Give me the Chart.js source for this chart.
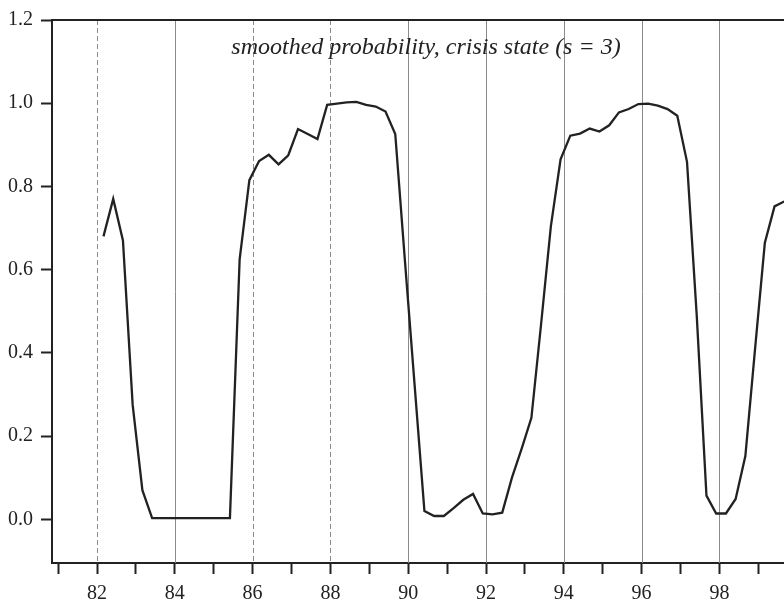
<!DOCTYPE html>
<html>
<head>
<meta charset="utf-8">
<script src="https://cdn.jsdelivr.net/npm/chart.js@4/dist/chart.umd.min.js"></script>
<style>
  body { margin: 0; background: #fff; }
  .chart-wrapper { width: 784px; height: 606px; }
</style>
</head>
<body>
<div class="chart-wrapper"><canvas id="chart"></canvas></div>
<script>
// quarterly observations, first one is March 1982
const firstQuarter = 82 + 2 / 12;
const probability = [
  0.68, 0.77, 0.67, 0.275, 0.07, 0.003, 0.003, 0.003, 0.003, 0.003,
  0.003, 0.003, 0.003, 0.003, 0.625, 0.815, 0.861, 0.876, 0.853, 0.875,
  0.938, 0.926, 0.914, 0.996, 0.999, 1.002, 1.003, 0.996, 0.992, 0.98,
  0.926, 0.62, 0.32, 0.02, 0.008, 0.008, 0.027, 0.047, 0.061, 0.014,
  0.012, 0.016, 0.1, 0.17, 0.244, 0.47, 0.704, 0.865, 0.922, 0.927,
  0.939, 0.932, 0.947, 0.978, 0.986, 0.998, 0.999, 0.994, 0.986, 0.97,
  0.859, 0.49, 0.057, 0.014, 0.014, 0.049, 0.152, 0.41, 0.664, 0.752,
  0.764,
];
const yTicks = [0, 0.2, 0.4, 0.6, 0.8, 1.0, 1.2];
const xTicks = [81, 82, 83, 84, 85, 86, 87, 88, 89, 90, 91, 92, 93, 94, 95, 96, 97, 98, 99];
const gridYears = [82, 84, 86, 88, 90, 92, 94, 96, 98];
const dashedYears = [82, 86, 88];
const title = 'smoothed probability, crisis state (s = 3)';

const serif = '"Liberation Serif", "DejaVu Serif", serif';
const ink = '#222';

const yearLines = {
  id: 'yearLines',
  beforeDatasetsDraw(chart) {
    const { ctx, chartArea: { top, bottom }, scales: { x } } = chart;
    ctx.save();
    ctx.strokeStyle = '#8a8a8a';
    ctx.lineWidth = 1;
    for (const year of gridYears) {
      const px = Math.round(x.getPixelForValue(year)) + 0.5;
      ctx.setLineDash(dashedYears.includes(year) ? [5, 3] : []);
      ctx.beginPath();
      ctx.moveTo(px, top);
      ctx.lineTo(px, bottom);
      ctx.stroke();
    }
    ctx.restore();
  },
};

const frameAndTitle = {
  id: 'frameAndTitle',
  afterDraw(chart) {
    const { ctx, chartArea: { left, right, top } } = chart;
    ctx.save();
    ctx.strokeStyle = ink;
    ctx.lineWidth = 2;
    ctx.beginPath();
    ctx.moveTo(left, top);
    ctx.lineTo(right, top);
    ctx.stroke();

    ctx.fillStyle = ink;
    ctx.font = `italic 24px ${serif}`;
    ctx.textAlign = 'center';
    ctx.textBaseline = 'alphabetic';
    ctx.fillText(title, 426, 54);
    ctx.restore();
  },
};

new Chart(document.getElementById('chart'), {
  type: 'line',
  data: {
    datasets: [
      {
        data: probability.map((p, i) => ({ x: firstQuarter + i / 4, y: p })),
        borderColor: ink,
        borderWidth: 2.3,
        pointRadius: 0,
        tension: 0,
        fill: false,
      },
    ],
  },
  plugins: [yearLines, frameAndTitle],
  options: {
    responsive: true,
    maintainAspectRatio: false,
    animation: false,
    layout: { padding: { top: 14, right: 0, left: 0, bottom: 0 } },
    plugins: {
      legend: { display: false },
      tooltip: { enabled: false },
    },
    scales: {
      x: {
        type: 'linear',
        min: 80.843,
        max: 99.66,
        afterFit(scale) {
          scale.height = 43;
        },
        afterBuildTicks(scale) {
          scale.ticks = xTicks.map((v) => ({ value: v }));
        },
        border: { color: ink, width: 2 },
        grid: {
          drawOnChartArea: false,
          drawTicks: true,
          tickLength: 11,
          tickColor: ink,
          tickWidth: 2,
        },
        ticks: {
          autoSkip: false,
          maxRotation: 0,
          padding: 8,
          color: ink,
          font: { family: serif, size: 20 },
          callback: (v) => (v % 2 === 0 ? String(v) : ''),
        },
      },
      y: {
        min: -0.105,
        max: 1.2,
        afterFit(scale) {
          scale.width = 52;
        },
        afterBuildTicks(scale) {
          scale.ticks = yTicks.map((v) => ({ value: v }));
        },
        border: { color: ink, width: 2 },
        grid: {
          drawOnChartArea: false,
          drawTicks: true,
          tickLength: 11,
          tickColor: ink,
          tickWidth: 2,
        },
        ticks: {
          padding: 8,
          color: ink,
          font: { family: serif, size: 20 },
          callback: (v) => v.toFixed(1),
        },
      },
    },
  },
});
</script>
</body>
</html>
